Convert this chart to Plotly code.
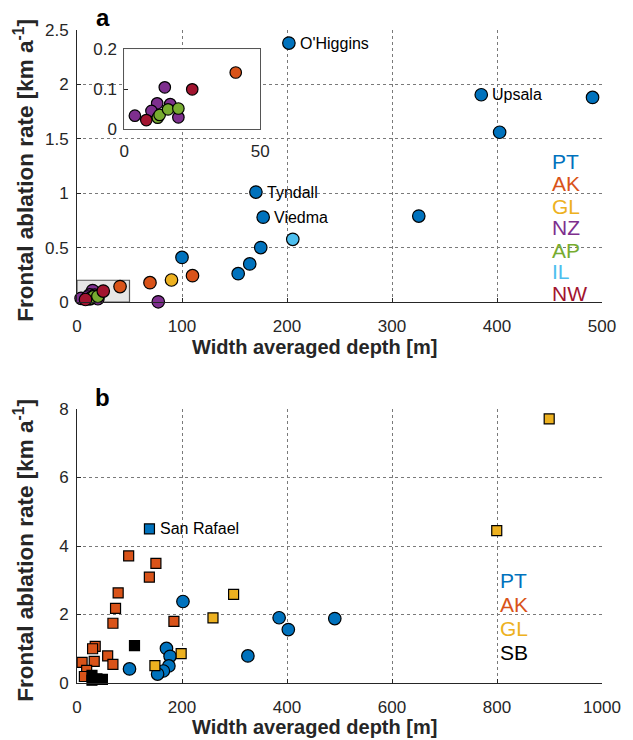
import plotly.graph_objects as go

# ---------------- data ----------------
# Panel a: width averaged depth [m] vs frontal ablation rate [km/a]
pt_a_x = [201.8, 385.0, 402.5, 491.0, 170.4, 177.3, 325.5, 175.0, 164.5, 153.5, 100.0]
pt_a_y = [2.38, 1.905, 1.56, 1.88, 1.01, 0.78, 0.79, 0.50, 0.35, 0.26, 0.41]
ak_a_x = [41.0, 69.5, 110.0]
ak_a_y = [0.142, 0.178, 0.242]
gl_a_x = [90.0]
gl_a_y = [0.202]
nz_a_x = [3.9, 14.9, 12.1, 10.0, 16.9, 19.9, 77.4]
nz_a_y = [0.034, 0.105, 0.065, 0.046, 0.063, 0.030, 0.002]
ap_a_x = [12.3, 13.0, 16.1, 19.9]
ap_a_y = [0.029, 0.036, 0.050, 0.052]
il_a_x = [205.5]
il_a_y = [0.576]
nw_a_x = [8.1, 25.0]
nw_a_y = [0.023, 0.100]

named_glaciers = ["O'Higgins", "Upsala", "Tyndall", "Viedma"]
named_x = [201.8, 385.0, 170.4, 177.3]
named_y = [2.38, 1.905, 1.01, 0.78]

# Panel b
pt_b_x = pt_a_x
pt_b_y = pt_a_y
sr_x = [138.0]
sr_y = [4.50]
ak_b_x = [98.4, 150.3, 137.8, 78.4, 73.4, 68.4, 184.6, 34.7, 29.7, 58.4, 32.8, 9.7, 68.4, 18.4, 14.1]
ak_b_y = [3.71, 3.49, 3.09, 2.63, 2.18, 1.745, 1.80, 1.07, 1.00, 0.79, 0.63, 0.60, 0.545, 0.37, 0.19]
gl_b_x = [298.3, 259.0, 198.4, 148.4, 899.4, 799.5]
gl_b_y = [2.59, 1.90, 0.86, 0.51, 7.71, 4.45]
sb_x = [109.5, 28.5, 28.5, 48.4, 38.0]
sb_y = [1.09, 0.22, 0.08, 0.105, 0.12]

regions_a = ["PT", "AK", "GL", "NZ", "AP", "IL", "NW"]
regions_b = ["PT", "AK", "GL", "SB"]

a_x_ticks = [0, 100, 200, 300, 400, 500]
a_y_ticks = [0, 0.5, 1, 1.5, 2, 2.5]
a_y_labels = ["0", "0.5", "1", "1.5", "2", "2.5"]
b_x_ticks = [0, 200, 400, 600, 800, 1000]
b_y_ticks = [0, 2, 4, 6, 8]
in_x_ticks = [0, 50]
in_y_ticks = [0, 0.1, 0.2]
in_y_labels = ["0", "0.1", "0.2"]

# ---------------- styling ----------------
COL = {"PT": "#0072BD", "AK": "#D95319", "GL": "#EDB120", "NZ": "#7E2F8E",
       "AP": "#77AC30", "IL": "#4DBEEE", "NW": "#A2142F", "SB": "#000000"}
FONT = "Liberation Sans, Arial, Helvetica, sans-serif"
DARK = "#262626"

W, H = 633, 740
ML, MR, MT, MB = 77, 23, 30, 57
PW, PH = W - ML - MR, H - MT - MB


def px2paper(px, py):
    return (px - ML) / PW, (H - MB - py) / PH


fig = go.Figure()


def add_pts(x, y, color, xa, ya, symbol="circle", size=12.5, lc="#000000"):
    fig.add_trace(go.Scatter(
        x=x, y=y, mode="markers", xaxis=xa, yaxis=ya, cliponaxis=False,
        showlegend=False, hoverinfo="skip",
        marker=dict(symbol=symbol, size=size, color=color,
                    line=dict(color=lc, width=1.2))))


# panel a main
groups_a = [(pt_a_x, pt_a_y, "PT"), (ak_a_x, ak_a_y, "AK"), (gl_a_x, gl_a_y, "GL"),
            (nz_a_x, nz_a_y, "NZ"), (ap_a_x, ap_a_y, "AP"), (il_a_x, il_a_y, "IL"),
            (nw_a_x, nw_a_y, "NW")]
for gx, gy, r in groups_a:
    add_pts(gx, gy, COL[r], "x", "y")
# inset
for gx, gy, r in groups_a:
    add_pts(gx, gy, COL[r], "x3", "y3", size=11.5)

# panel b
add_pts(pt_b_x, pt_b_y, COL["PT"], "x2", "y2", size=12.5)
add_pts(ak_b_x, ak_b_y, COL["AK"], "x2", "y2", symbol="square", size=10)
add_pts(gl_b_x, gl_b_y, COL["GL"], "x2", "y2", symbol="square", size=10)
add_pts(sb_x, sb_y, COL["SB"], "x2", "y2", symbol="square", size=10)
add_pts(sr_x, sr_y, COL["PT"], "x2", "y2", symbol="square", size=10)

axis_common = dict(showline=True, linecolor=DARK, linewidth=1, ticks="inside",
                   ticklen=4, tickwidth=1, tickcolor=DARK, showgrid=True,
                   gridcolor="#7a7a7a", griddash="dot", gridwidth=1, zeroline=False,
                   tickfont=dict(family=FONT, size=17, color=DARK), fixedrange=True)

ya_dom = [px2paper(0, 302)[1], 1.0]
yb_dom = [0.0, px2paper(0, 409)[1]]
ix0, iy0 = px2paper(125, 129.3)
ix1, iy1 = px2paper(263, 49.3)

fig.update_layout(
    width=W, height=H, margin=dict(l=ML, r=MR, t=MT, b=MB),
    paper_bgcolor="white", plot_bgcolor="white",
    font=dict(family=FONT, color=DARK),
    xaxis=dict(axis_common, domain=[0, 1], anchor="y", range=[0, 500],
               tickvals=a_x_ticks, ticklabelstandoff=9),
    yaxis=dict(axis_common, domain=ya_dom, anchor="x", range=[0, 2.5],
               tickvals=a_y_ticks, ticktext=a_y_labels, ticklabelstandoff=4),
    xaxis2=dict(axis_common, domain=[0, 1], anchor="y2", range=[0, 1000],
                tickvals=b_x_ticks, ticklabelstandoff=9),
    yaxis2=dict(axis_common, domain=yb_dom, anchor="x2", range=[0, 8],
                tickvals=b_y_ticks, ticklabelstandoff=4),
    xaxis3=dict(axis_common, domain=[ix0, ix1], anchor="y3", range=[0, 50],
                tickvals=in_x_ticks, showgrid=False, mirror=True,
                linecolor="#555555", ticklabelstandoff=6),
    yaxis3=dict(axis_common, domain=[iy0, iy1], anchor="x3", range=[0, 0.2],
                tickvals=in_y_ticks, ticktext=in_y_labels, showgrid=False,
                mirror=True, linecolor="#555555", ticklabelstandoff=3),
)

shapes = [
    # zoom-window rectangle in panel a
    dict(type="rect", xref="x", yref="y", x0=in_x_ticks[0], x1=in_x_ticks[-1],
         y0=in_y_ticks[0], y1=in_y_ticks[-1], fillcolor="#e6e6e6",
         line=dict(color="#555555", width=1.2), layer="below"),
    # inset background
    dict(type="rect", xref="x3 domain", yref="y3 domain", x0=0, x1=1, y0=0, y1=1,
         fillcolor="#e6e6e6", line=dict(width=0), layer="below"),
]
fig.update_layout(shapes=shapes)

ann = []
# glacier names
for nm, nx, ny in zip(named_glaciers, named_x, named_y):
    ann.append(dict(x=nx, y=ny, xref="x", yref="y", text=nm, showarrow=False,
                    xanchor="left", yanchor="middle", xshift=9,
                    font=dict(family=FONT, size=16, color="#000000")))
ann.append(dict(x=sr_x[0], y=sr_y[0], xref="x2", yref="y2", text="San Rafael",
                showarrow=False, xanchor="left", yanchor="middle", xshift=9,
                font=dict(family=FONT, size=16, color="#000000")))

# region legends (coloured text)
leg_a_y = [161, 184, 206, 228, 250, 271, 293]
for r, py in zip(regions_a, leg_a_y):
    x, y = px2paper(557, py)
    ann.append(dict(x=x, y=y, xref="paper", yref="paper", text=r, showarrow=False,
                    xanchor="left", yanchor="middle",
                    font=dict(family=FONT, size=21, color=COL[r])))
leg_b_y = [580, 604, 628, 652]
for r, py in zip(regions_b, leg_b_y):
    x, y = px2paper(504, py)
    ann.append(dict(x=x, y=y, xref="paper", yref="paper", text=r, showarrow=False,
                    xanchor="left", yanchor="middle",
                    font=dict(family=FONT, size=21, color=COL[r])))

# panel letters
for lab, py in (("a", 18), ("b", 397)):
    x, y = px2paper(103, py)
    ann.append(dict(x=x, y=y, xref="paper", yref="paper", text="<b>%s</b>" % lab,
                    showarrow=False, xanchor="center", yanchor="middle",
                    font=dict(family=FONT, size=24, color="#000000")))

# axis titles
for py in (347, 727):
    x, y = px2paper(318, py)
    ann.append(dict(x=x, y=y, xref="paper", yref="paper",
                    text="<b>Width averaged depth [m]</b>", showarrow=False,
                    xanchor="center", yanchor="middle",
                    font=dict(family=FONT, size=20, color=DARK)))
for py in (170, 550):
    x, y = px2paper(23, py)
    ann.append(dict(x=x, y=y, xref="paper", yref="paper",
                    text="<b>Frontal ablation rate [km a<sup>-1</sup>]</b>",
                    showarrow=False, textangle=-90, xanchor="center", yanchor="middle",
                    font=dict(family=FONT, size=22.5, color=DARK)))

fig.update_layout(annotations=ann)
fig.write_html("out.html")
